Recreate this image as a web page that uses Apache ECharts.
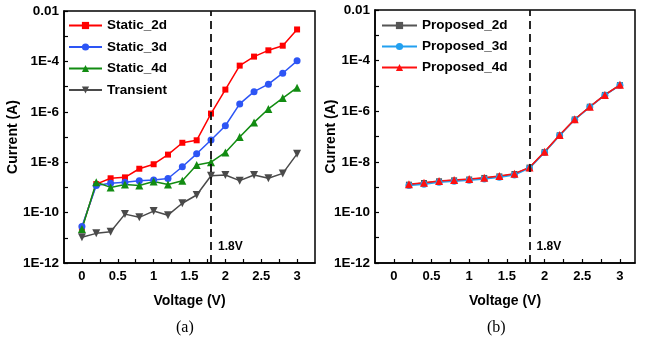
<!DOCTYPE html>
<html>
<head>
<meta charset="utf-8">
<script src="https://cdn.jsdelivr.net/npm/echarts@6/dist/echarts.min.js"></script>
<style>
	html, body { margin: 0; padding: 0; background: #fff; }
	#chart { width: 647px; height: 345px; }
</style>
</head>
<body>
<div id="chart"></div>
<script>
// voltage points
const voltsA = [0, 0.2, 0.4, 0.6, 0.8, 1.0, 1.2, 1.4, 1.6, 1.8, 2.0, 2.2, 2.4, 2.6, 2.8, 3.0]
const voltsB = [0.2, 0.4, 0.6, 0.8, 1.0, 1.2, 1.4, 1.6, 1.8, 2.0, 2.2, 2.4, 2.6, 2.8, 3.0]

// panel (a) currents
const static2d = [2.5e-11, 1.35e-9, 2.3e-9, 2.5e-9, 5.5e-9, 8.3e-9, 2.0e-8, 5.9e-8, 7.4e-8, 8.5e-7, 7.6e-6, 6.8e-5, 1.55e-4, 2.75e-4, 4.2e-4, 1.85e-3]
const static3d = [2.8e-11, 1.2e-9, 1.45e-9, 1.6e-9, 1.85e-9, 1.95e-9, 2.25e-9, 6.6e-9, 2.15e-8, 7.6e-8, 2.8e-7, 2.05e-6, 6.3e-6, 1.25e-5, 3.4e-5, 1.05e-4]
const static4d = [2.25e-11, 1.6e-9, 1.0e-9, 1.3e-9, 1.2e-9, 1.7e-9, 1.3e-9, 1.85e-9, 7.8e-9, 1.0e-8, 2.45e-8, 1.0e-7, 3.8e-7, 1.3e-6, 3.5e-6, 9.1e-6]
const transient = [1.05e-11, 1.5e-11, 1.75e-11, 8.7e-11, 6.5e-11, 1.15e-10, 7.9e-11, 2.35e-10, 5.0e-10, 2.9e-9, 3.1e-9, 1.85e-9, 3.1e-9, 2.3e-9, 3.6e-9, 2.15e-8]

// panel (b) currents
const proposed2d = [1.25e-9, 1.45e-9, 1.7e-9, 1.85e-9, 2.0e-9, 2.3e-9, 2.65e-9, 3.3e-9, 5.9e-9, 2.45e-8, 1.12e-7, 4.7e-7, 1.5e-6, 4.4e-6, 1.08e-5]
const proposed3d = [1.15e-9, 1.3e-9, 1.55e-9, 1.7e-9, 1.85e-9, 2.1e-9, 2.45e-9, 3.0e-9, 5.6e-9, 2.35e-8, 1.1e-7, 4.6e-7, 1.45e-6, 4.3e-6, 1.05e-5]
const proposed4d = [1.3e-9, 1.5e-9, 1.75e-9, 1.9e-9, 2.1e-9, 2.35e-9, 2.75e-9, 3.4e-9, 6.0e-9, 2.5e-8, 1.15e-7, 4.8e-7, 1.5e-6, 4.4e-6, 1.1e-5]

const thresholdV = 1.8
const thresholdLabel = "1.8V"

const FONT = "Liberation Sans"

function pairs(xs, ys) {
	return xs.map((x, i) => [x, ys[i]])
}

function xAxisCfg(gridIndex, max) {
	return {
		type: "value",
		gridIndex,
		min: -0.25,
		max,
		interval: 0.25,
		name: "Voltage (V)",
		nameLocation: "middle",
		nameGap: 31,
		nameMoveOverlap: false,
		nameTextStyle: { fontFamily: FONT, fontWeight: "bold", fontSize: 14, color: "#000" },
		axisLine: { onZero: false, lineStyle: { color: "#000", width: 1.5 } },
		axisTick: { inside: true, length: 4, lineStyle: { color: "#000", width: 1.2 } },
		axisLabel: {
			margin: 7,
			fontFamily: FONT, fontWeight: "bold", fontSize: 13, color: "#000",
			showMinLabel: false, showMaxLabel: false,
			formatter: v => {
				const r = Math.round(v * 100) / 100
				return (r >= 0 && Math.abs(r * 2 - Math.round(r * 2)) < 1e-6) ? String(r) : ""
			}
		},
		splitLine: { show: false }
	}
}

function yAxisCfg(gridIndex, nameGap) {
	return {
		type: "log",
		logBase: 10,
		gridIndex,
		min: 1e-12,
		max: 0.01,
		interval: 1,
		name: "Current (A)",
		nameLocation: "middle",
		nameGap,
		nameMoveOverlap: false,
		nameTextStyle: { fontFamily: FONT, fontWeight: "bold", fontSize: 14, color: "#000" },
		axisLine: { show: true, onZero: false, lineStyle: { color: "#000", width: 1.5 } },
		axisTick: { inside: true, length: 4, lineStyle: { color: "#000", width: 1.2 } },
		axisLabel: {
			margin: 5,
			fontFamily: FONT, fontWeight: "bold", fontSize: 13.5, color: "#000",
			formatter: v => {
				const e = Math.round(Math.log10(v))
				if (e % 2 !== 0) return ""
				return e === -2 ? "0.01" : "1E" + e
			}
		},
		splitLine: { show: false }
	}
}

function lineSeries(name, xi, data, color, symbol, size, extra) {
	return Object.assign({
		name,
		type: "line",
		xAxisIndex: xi,
		yAxisIndex: xi,
		data,
		symbol,
		symbolSize: size,
		lineStyle: { color, width: 1.5 },
		itemStyle: { color },
		animation: false
	}, extra || {})
}

function threshold() {
	return {
		markLine: {
			silent: true,
			symbol: "none",
			label: { show: false },
			lineStyle: { color: "#111", type: [8, 5], width: 1.8 },
			data: [{ xAxis: thresholdV }]
		},
		markPoint: {
			silent: true,
			symbol: "circle",
			symbolSize: 0,
			label: {
				show: true, position: "right", distance: 7,
				formatter: thresholdLabel,
				fontFamily: FONT, fontWeight: "bold", fontSize: 12, color: "#000"
			},
			data: [{ coord: [thresholdV, 4.5e-12] }]
		}
	}
}

const legendText = { fontFamily: FONT, fontWeight: "bold", fontSize: 13.5, color: "#000" }

const chart = echarts.init(document.querySelector("#chart"), null, { renderer: "canvas" })
chart.setOption({
	backgroundColor: "#fff",
	animation: false,
	grid: [
		{ left: 64, right: 332, top: 11, bottom: 82, show: true, borderColor: "#000", borderWidth: 1.5 },
		{ left: 375, right: 12, top: 10, bottom: 82, show: true, borderColor: "#000", borderWidth: 1.5 }
	],
	legend: [
		{
			data: ["Static_2d", "Static_3d", "Static_4d", "Transient"],
			orient: "vertical", left: 68, top: 18.5, padding: 0,
			itemWidth: 33, itemHeight: 9, itemGap: 7.5,
			textStyle: legendText
		},
		{
			data: ["Proposed_2d", "Proposed_3d", "Proposed_4d"],
			orient: "vertical", left: 381, top: 18.5, padding: 0,
			itemWidth: 35, itemHeight: 9, itemGap: 7,
			textStyle: legendText
		}
	],
	xAxis: [xAxisCfg(0, 3.25), xAxisCfg(1, 3.2)],
	yAxis: [yAxisCfg(0, 44), yAxisCfg(1, 37)],
	graphic: [
		{ type: "text", left: 176, top: 320, style: { text: "(a)", font: "16px 'Liberation Serif'", fill: "#000" } },
		{ type: "text", left: 487, top: 320, style: { text: "(b)", font: "16px 'Liberation Serif'", fill: "#000" } }
	],
	series: [
		lineSeries("Static_2d", 0, pairs(voltsA, static2d), "#ff0000", "rect", 6, threshold()),
		lineSeries("Static_3d", 0, pairs(voltsA, static3d), "#2d55f5", "circle", 7),
		lineSeries("Static_4d", 0, pairs(voltsA, static4d), "#128c12", "triangle", 8),
		lineSeries("Transient", 0, pairs(voltsA, transient), "#4a4a4a", "path://M0,0 L10,0 L5,9 Z", 8),
		lineSeries("Proposed_2d", 1, pairs(voltsB, proposed2d), "#555555", "rect", 6, threshold()),
		lineSeries("Proposed_3d", 1, pairs(voltsB, proposed3d), "#22a0f0", "circle", 7),
		lineSeries("Proposed_4d", 1, pairs(voltsB, proposed4d), "#ff1010", "triangle", 8)
	]
})
</script>
</body>
</html>
